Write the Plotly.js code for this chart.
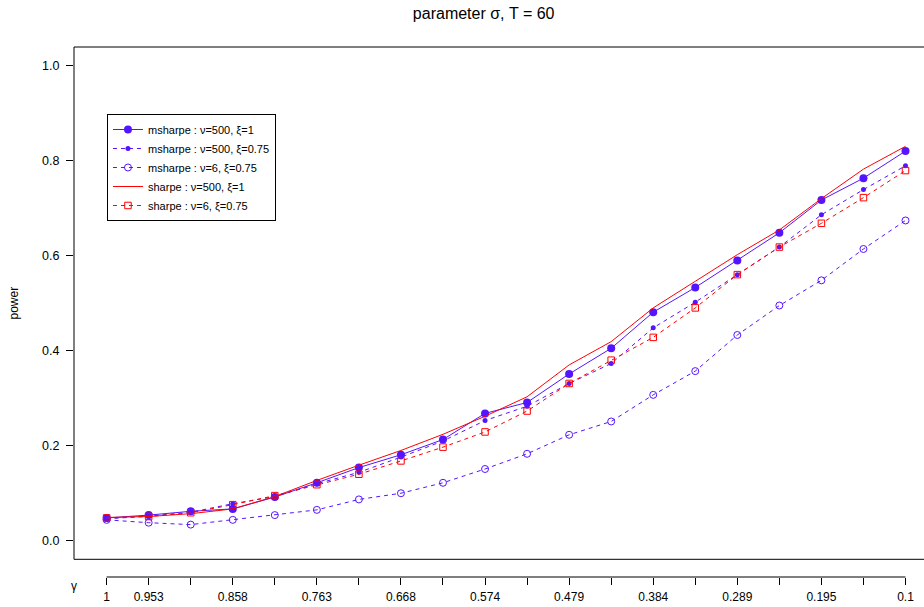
<!DOCTYPE html>
<html>
<head>
<meta charset="utf-8">
<script src="https://cdn.plot.ly/plotly-3.0.1.min.js"></script>
<style>html,body{margin:0;padding:0;background:#fff;}#chart{width:924px;height:607px;}</style>
</head>
<body>
<div id="chart"></div>
<script>
var gammaLabels = ['1','0.953','0.905','0.858','0.811','0.763','0.716','0.668','0.621','0.574','0.526','0.479','0.432','0.384','0.337','0.289','0.242','0.195','0.147','0.1'];
var shownLabels = ['1','0.953','','0.858','','0.763','','0.668','','0.574','','0.479','','0.384','','0.289','','0.195','','0.1'];

var msharpe500xi1   = [0.048,0.054,0.062,0.067,0.092,0.122,0.154,0.181,0.213,0.268,0.291,0.351,0.405,0.481,0.533,0.590,0.648,0.717,0.763,0.820];
var msharpe500xi075 = [0.046,0.052,0.060,0.078,0.093,0.120,0.144,0.176,0.210,0.253,0.283,0.331,0.373,0.448,0.502,0.560,0.618,0.686,0.739,0.789];
var msharpe6xi075   = [0.044,0.038,0.034,0.044,0.054,0.065,0.087,0.100,0.122,0.151,0.183,0.223,0.251,0.307,0.357,0.433,0.495,0.548,0.614,0.674];
var sharpe500xi1    = [0.049,0.051,0.057,0.067,0.093,0.127,0.159,0.190,0.224,0.262,0.303,0.370,0.419,0.490,0.546,0.602,0.654,0.720,0.782,0.830];
var sharpe6xi075    = [0.048,0.051,0.059,0.076,0.095,0.118,0.140,0.168,0.197,0.229,0.273,0.331,0.380,0.428,0.490,0.560,0.618,0.668,0.722,0.779];

var yTicks = [0, 0.2, 0.4, 0.6, 0.8, 1.0];
var yTickText = ['0.0','0.2','0.4','0.6','0.8','1.0'];

var blue = '#5514FF';
var red = '#FF0000';
var FONT = 'Liberation Sans, Arial, Helvetica, sans-serif';

var traces = [
  {x: gammaLabels, y: msharpe500xi1, name: 'msharpe : \u03bd=500, \u03be=1', type: 'scatter', mode: 'lines+markers',
   line: {color: blue, width: 1}, marker: {color: blue, size: 8, symbol: 'circle'}},
  {x: gammaLabels, y: msharpe500xi075, name: 'msharpe : \u03bd=500, \u03be=0.75', type: 'scatter', mode: 'lines+markers',
   line: {color: blue, width: 1, dash: '4px,4px'}, marker: {color: blue, size: 5, symbol: 'circle'}},
  {x: gammaLabels, y: msharpe6xi075, name: 'msharpe : \u03bd=6, \u03be=0.75', type: 'scatter', mode: 'lines+markers',
   line: {color: blue, width: 1, dash: '4px,4px'}, marker: {color: blue, size: 7, symbol: 'circle-open', line: {width: 1, color: blue}}},
  {x: gammaLabels, y: sharpe500xi1, name: 'sharpe : \u03bd=500, \u03be=1', type: 'scatter', mode: 'lines',
   line: {color: red, width: 1}},
  {x: gammaLabels, y: sharpe6xi075, name: 'sharpe : \u03bd=6, \u03be=0.75', type: 'scatter', mode: 'lines+markers',
   line: {color: red, width: 1, dash: '4px,4px'}, marker: {color: red, size: 6.5, symbol: 'square-open', line: {width: 1, color: red}}}
];

var layout = {
  width: 924, height: 607,
  margin: {l: 74, r: 0, t: 47, b: 30, pad: 0},
  paper_bgcolor: '#ffffff', plot_bgcolor: '#ffffff',
  font: {family: FONT, size: 12, color: '#000'},
  showlegend: true,
  title: {text: 'parameter \u03c3, T = 60', font: {family: FONT, size: 16, color: '#000'},
          xref: 'paper', x: 0.482, xanchor: 'center', yref: 'container', y: 0.978, yanchor: 'middle'},
  xaxis: {type: 'category', range: [-0.776, 19.44], anchor: 'free', position: 0,
          showline: false, showgrid: false, zeroline: false,
          ticks: 'outside', ticklen: 7, tickwidth: 1, tickcolor: '#000', ticklabelstandoff: 2,
          tickmode: 'array', tickvals: gammaLabels, ticktext: shownLabels,
          tickfont: {family: FONT, size: 12, color: '#000'}},
  yaxis: {domain: [0.0334, 1], range: [-0.039, 1.039], showgrid: false, zeroline: false, showline: false,
          ticks: 'outside', ticklen: 7, tickwidth: 1, tickcolor: '#000', ticklabelstandoff: 4,
          tickmode: 'array', tickvals: yTicks, ticktext: yTickText,
          tickfont: {family: FONT, size: 12.5, color: '#000'},
          title: {text: 'power', font: {family: FONT, size: 12, color: '#000'}, standoff: 20}},
  legend: {x: 0.0388, y: 0.8736, xanchor: 'left', yanchor: 'top', bgcolor: '#fff',
           bordercolor: '#000', borderwidth: 1, font: {family: FONT, size: 11, color: '#000'},
           tracegroupgap: 0},
  shapes: [
    {type: 'rect', xref: 'x domain', yref: 'y domain', x0: 0, x1: 1.05, y0: 0, y1: 1,
     line: {color: '#000', width: 1}, fillcolor: 'rgba(0,0,0,0)', layer: 'above'},
    {type: 'line', xref: 'x', yref: 'paper', x0: 0, x1: gammaLabels.length - 1, y0: 0, y1: 0,
     line: {color: '#000', width: 1}}
  ],
  annotations: [
    {text: '\u03b3', xref: 'paper', yref: 'paper', x: 0, y: -0.017, xanchor: 'center', yanchor: 'middle',
     showarrow: false, font: {family: FONT, size: 12, color: '#000'}}
  ]
};

Plotly.newPlot('chart', traces, layout, {staticPlot: true, displayModeBar: false});
</script>
</body>
</html>
